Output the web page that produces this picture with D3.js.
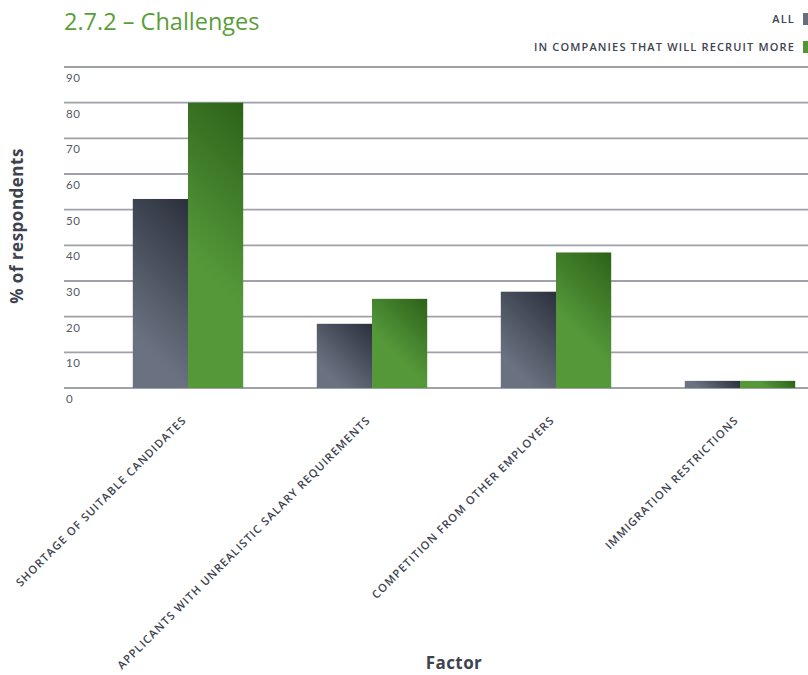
<!DOCTYPE html>
<html>
<head>
<meta charset="utf-8">
<script src="https://cdn.jsdelivr.net/npm/d3@7"></script>
<style>
  html, body { margin: 0; padding: 0; background: #fff; }
  svg { display: block; }
</style>
</head>
<body>
<svg id="chart" width="808" height="675"></svg>
<script>
// Survey results: share of respondents citing each recruitment challenge
const categories = [
  "SHORTAGE OF SUITABLE CANDIDATES",
  "APPLICANTS WITH UNREALISTIC SALARY REQUIREMENTS",
  "COMPETITION FROM OTHER EMPLOYERS",
  "IMMIGRATION RESTRICTIONS"
];
const seriesNames = ["ALL", "IN COMPANIES THAT WILL RECRUIT MORE"];
const allValues = [53, 18, 27, 2];
const recruitMoreValues = [80, 25, 38, 2];
const yTicks = [0, 10, 20, 30, 40, 50, 60, 70, 80, 90];

const textColor = "#3e4350";
const svg = d3.select("#chart");
const width = 808, height = 675;

const x = d3.scaleBand().domain(categories).range([96, 832])
  .paddingInner(0.4).paddingOuter(0.2);
const x1 = d3.scaleBand().domain(seriesNames).range([0, x.bandwidth()]);
const y = d3.scaleLinear().domain([0, 90]).range([388, 67]);

const seriesStyle = {
  [seriesNames[0]]: { dark: "#2b303c", light: "#6a7281", lightAt: 0.78 },
  [seriesNames[1]]: { dark: "#2c6218", light: "#55983a", lightAt: 0.6 }
};

// Gridlines
const grid = svg.append("g");
grid.selectAll("line").data(yTicks).join("line")
  .attr("x1", 64).attr("x2", width)
  .attr("y1", d => y(d)).attr("y2", d => y(d))
  .attr("stroke", "#9ea1a7").attr("stroke-width", 1.8);

// Y tick labels sit just below each gridline
const yAxis = d3.axisLeft(y).tickValues(yTicks).tickSize(0).tickPadding(0);
const yg = svg.append("g").attr("transform", "translate(66,0)").call(yAxis);
yg.select(".domain").remove();
yg.selectAll("text")
  .attr("text-anchor", "start")
  .attr("dy", "1.25em")
  .attr("font-family", "Lato, 'Open Sans', sans-serif")
  .attr("font-size", 11.5)
  .attr("letter-spacing", 0.5)
  .attr("fill", "#555a66");

// Bars, each with its own 45° gradient (dark top-right, light bottom-left)
const rows = categories.map((c, i) => ({
  cat: c,
  vals: [
    { key: seriesNames[0], v: allValues[i] },
    { key: seriesNames[1], v: recruitMoreValues[i] }
  ]
}));
const bars = [];
rows.forEach((r, i) => r.vals.forEach((d, j) => {
  const bx = x(r.cat) + x1(d.key);
  const bw = x1.bandwidth();
  const by = y(d.v);
  const bh = y(0) - y(d.v);
  bars.push({ id: `barGrad${i}_${j}`, key: d.key, bx, bw, by, bh });
}));

const defs = svg.append("defs");
bars.forEach(b => {
  const st = seriesStyle[b.key];
  const reach = (b.bw + b.bh) / 2;
  const g = defs.append("linearGradient").attr("id", b.id)
    .attr("gradientUnits", "userSpaceOnUse")
    .attr("x1", b.bx + b.bw).attr("y1", b.by)
    .attr("x2", b.bx + b.bw - reach).attr("y2", b.by + reach);
  g.append("stop").attr("offset", 0).attr("stop-color", st.dark);
  g.append("stop").attr("offset", st.lightAt).attr("stop-color", st.light);
  g.append("stop").attr("offset", 1).attr("stop-color", st.light);
});

svg.append("g").selectAll("rect").data(bars).join("rect")
  .attr("x", d => d.bx)
  .attr("width", d => d.bw)
  .attr("y", d => d.by)
  .attr("height", d => d.bh)
  .attr("fill", d => `url(#${d.id})`);

// Category labels, rotated
svg.append("g").selectAll("text").data(categories).join("text")
  .attr("transform", d => `translate(${x(d) + x.bandwidth() / 2 - 1},${421}) rotate(-45)`)
  .attr("text-anchor", "end")
  .attr("font-family", "'Open Sans', sans-serif")
  .attr("font-weight", 600)
  .attr("font-size", 11.2)
  .attr("letter-spacing", 1.05)
  .attr("fill", textColor)
  .text(d => d);

// Title
svg.append("text")
  .attr("x", 64).attr("y", 30)
  .attr("font-family", "'Open Sans', sans-serif")
  .attr("font-weight", 400)
  .attr("font-size", 23.5)
  .attr("fill", "#5a9e3a")
  .text("2.7.2 – Challenges");

// Legend (right aligned)
const legendColors = ["#676e7c", "#549536"];
const lg = svg.append("g");
seriesNames.forEach((s, i) => {
  const yy = 19 + i * 28;
  lg.append("text")
    .attr("x", 795).attr("y", yy + 4)
    .attr("text-anchor", "end")
    .attr("font-family", "'Open Sans', sans-serif")
    .attr("font-weight", 600)
    .attr("font-size", 11)
    .attr("letter-spacing", 1.15)
    .attr("fill", textColor)
    .text(s);
  lg.append("rect")
    .attr("x", 803).attr("y", yy - 6).attr("width", 6).attr("height", 12)
    .attr("fill", legendColors[i]);
});

// Axis titles
svg.append("text")
  .attr("transform", "translate(23,226) rotate(-90)")
  .attr("text-anchor", "middle")
  .attr("font-family", "'Open Sans', sans-serif")
  .attr("font-weight", 700)
  .attr("font-size", 17)
  .attr("letter-spacing", 0.5)
  .attr("fill", textColor)
  .text("% of respondents");

svg.append("text")
  .attr("x", 454).attr("y", 669)
  .attr("text-anchor", "middle")
  .attr("font-family", "'Open Sans', sans-serif")
  .attr("font-weight", 700)
  .attr("font-size", 17)
  .attr("letter-spacing", 0.4)
  .attr("fill", textColor)
  .text("Factor");
</script>
</body>
</html>
